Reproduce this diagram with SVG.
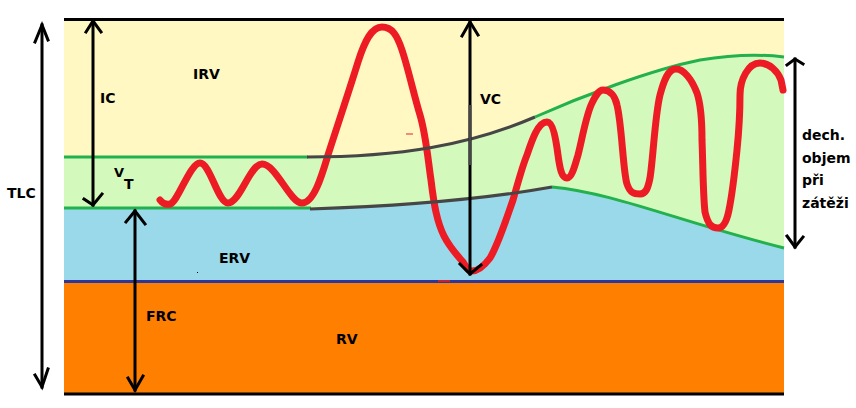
<svg xmlns="http://www.w3.org/2000/svg" width="856" height="408" viewBox="0 0 856 408">
  <style>
    .lbl { font-family: "DejaVu Sans", Verdana, sans-serif; font-weight: bold; font-size: 14px; fill: #000; }
    .arr { fill: none; stroke: #000; stroke-width: 3; stroke-linecap: square; stroke-linejoin: miter; }
    .grn { fill: none; stroke: #22b14c; stroke-width: 3; }
    .gry { fill: none; stroke: #464646; stroke-width: 3; }
    .red { fill: none; stroke: #ed1c24; stroke-width: 7; stroke-linecap: round; stroke-linejoin: round; }
  </style>
  <rect width="856" height="408" fill="#ffffff"/>

  <g id="zones">
    <rect id="irv-zone" x="64" y="20" width="720" height="262" fill="#fff8c2"/>
    <path id="vt-zone" fill="#d3f9bc" d="M64,157 L307,157 C400,157 470,145 535,117 C580,97 650,70 700,60 C730,55 760,54 784,57 L784,248 C680,222 615,193 552,187 C480,200 400,206 310,209 L64,208 Z"/>
    <path id="erv-zone" fill="#99d9ea" d="M64,208 L310,209 C400,206 480,200 552,187 C615,193 680,222 784,248 L784,282 L64,282 Z"/>
    <rect id="rv-zone" x="64" y="282" width="720" height="111" fill="#ff7f00"/>
    <rect x="64" y="280" width="720" height="3" fill="#2f3699"/>
    <rect x="64" y="18" width="720" height="3" fill="#000"/>
    <rect x="64" y="392.5" width="720" height="3" fill="#000"/>
    <rect x="197" y="272" width="1" height="1" fill="#000"/>
  </g>

  <g id="boundaries">
    <line class="grn" x1="64" y1="157" x2="308" y2="157"/>
    <line class="grn" x1="64" y1="208" x2="311" y2="208"/>
    <path class="grn" d="M535,117 C580,97 650,70 700,60 C730,55 760,54 784,57"/>
    <path class="grn" d="M552,187 C615,193 680,222 784,248"/>
  </g>

  <g id="breathing-curve">
    <path class="red" d="M160,200 C163,204 166,205 170,204 C178,202 190,163 200,163 C210,163 218,203 228,203 C240,203 250,164 262,164 C276,164 290,203 302,203 C314,203 322,175 328,155 C336,130 350,88 358,62 C365,40 372,27 382,27 C392,27 397,35 402,50 C408,68 414,95 420,115 C426,135 428,160 431,180 C434,205 437,222 444,236 C450,248 458,256 463,262 C466,267 468,271 472,271 C478,271 484,266 490,258 C498,245 506,220 513,200 C518,183 522,167 527,155 C532,140 538,122 547,122 C553,122 556,140 558,155 C560,170 562,178 567,178 C572,178 575,165 578,155 C582,140 586,115 592,103 C596,95 599,90 603,90 C610,90 615,96 617,105 C622,125 623,172 627,184 C630,193 634,194 640,194 C646,194 648,188 650,178 C653,160 655,115 660,95 C664,80 668,69 676,69 C684,69 692,80 697,93 C701,105 702,125 702,140 C703,165 703,195 705,212 C708,225 712,228 718,228 C724,228 727,220 729,210 C733,190 735,170 737,150 C739,130 740,110 740,95 C740,80 748,63 760,63 C770,63 778,72 781,80 L783,90"/>
    <line x1="406" y1="134" x2="413" y2="134" stroke="#ed1c24" stroke-width="1"/>
    <line x1="438" y1="281" x2="450" y2="281" stroke="#ed1c24" stroke-width="1.5"/>
  </g>

  <g id="exercise-shift">
    <path class="gry" d="M307,157 C400,157 470,145 535,117"/>
    <path class="gry" d="M310,209 C400,206 480,200 552,187"/>
  </g>

  <g id="connectors">
    <g id="tlc-arrow">
      <line class="arr" x1="42" y1="25" x2="42" y2="387"/>
      <polyline class="arr" points="35,42 42,25 48,40"/>
      <polyline class="arr" points="35,375 42,387 48,369"/>
    </g>
    <g id="ic-arrow">
      <line class="arr" x1="93" y1="21" x2="93" y2="205"/>
      <polyline class="arr" points="86,32 93,21 101,32"/>
      <polyline class="arr" points="84,199 93,205 102,194"/>
    </g>
    <g id="frc-arrow">
      <line class="arr" x1="135" y1="211" x2="135" y2="390"/>
      <polyline class="arr" points="126,222 135,211 145,224"/>
      <polyline class="arr" points="128,378 135,390 143,376"/>
    </g>
    <g id="vc-arrow">
      <line class="arr" x1="470" y1="22" x2="470" y2="274"/>
      <line x1="470" y1="105" x2="470" y2="165" stroke="#464646" stroke-width="3"/>
      <polyline class="arr" points="462,36 470,22 478,35"/>
      <polyline class="arr" points="460,264 470,274 481,265"/>
    </g>
    <g id="exercise-arrow">
      <line class="arr" x1="795" y1="59" x2="795" y2="247"/>
      <polyline class="arr" points="787,65 795,59 803,64"/>
      <polyline class="arr" points="787,236 795,247 803,237"/>
    </g>
  </g>

  <g id="labels">
    <text id="tlc" class="lbl" x="7" y="198">TLC</text>
    <text id="ic" class="lbl" x="100" y="103">IC</text>
    <text id="irv" class="lbl" x="193" y="79">IRV</text>
    <g id="vt">
      <text class="lbl" x="114" y="177" style="font-size:13px">V</text>
      <text class="lbl" x="124" y="189">T</text>
    </g>
    <text id="erv" class="lbl" x="219" y="263">ERV</text>
    <text id="frc" class="lbl" x="146" y="321">FRC</text>
    <text id="rv" class="lbl" x="336" y="344">RV</text>
    <text id="vc" class="lbl" x="480" y="104">VC</text>
    <g id="exercise-label">
      <text class="lbl" x="802" y="140">dech.</text>
      <text class="lbl" x="802" y="163">objem</text>
      <text class="lbl" x="802" y="185">při</text>
      <text class="lbl" x="802" y="208">zátěži</text>
    </g>
  </g>
</svg>
